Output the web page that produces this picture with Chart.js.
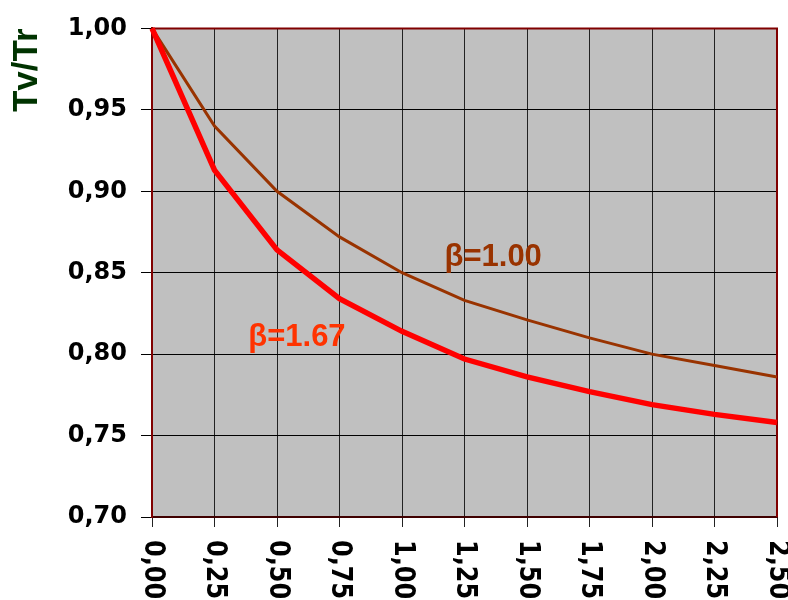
<!DOCTYPE html>
<html lang="en">
<head>
<meta charset="UTF-8">
<title>Tv/Tr</title>
<script src="https://cdn.jsdelivr.net/npm/chart.js@4.4.1/dist/chart.umd.min.js"></script>
<style>
  body { margin: 0; background: #fff; }
</style>
</head>
<body>
<canvas id="chart" width="788" height="600"></canvas>
<script>
// values
const xValues = [0, 0.25, 0.5, 0.75, 1.0, 1.25, 1.5, 1.75, 2.0, 2.25, 2.5];
const beta100 = [1.000, 0.940, 0.900, 0.872, 0.850, 0.833, 0.821, 0.810, 0.800, 0.793, 0.786];
const beta167 = [1.000, 0.913, 0.864, 0.834, 0.814, 0.797, 0.786, 0.777, 0.769, 0.763, 0.758];
const seriesNames = ['β=1.00', 'β=1.67'];
const yTitle = 'Tv/Tr';

// text labels on the plot, placed in data units
const curveLabels = [
    { text: seriesNames[0], x: 1.17, y: 0.854, color: '#993300' },
    { text: seriesNames[1], x: 0.385, y: 0.805, color: '#ff3300' }
];

const fmt = v => v.toFixed(2).replace('.', ',');
const points = ys => xValues.map((x, i) => ({ x: x, y: ys[i] }));

const plotBackground = {
    id: 'plotBackground',
    beforeDraw(chart) {
        const { ctx, chartArea: a } = chart;
        ctx.save();
        ctx.fillStyle = '#c0c0c0';
        ctx.fillRect(a.left, a.top, a.right - a.left, a.bottom - a.top);
        ctx.restore();
    },
    beforeDatasetsDraw(chart) {
        // top and right edge of the frame
        const { ctx, chartArea: a } = chart;
        ctx.save();
        ctx.strokeStyle = '#800000';
        ctx.lineWidth = 2;
        ctx.beginPath();
        ctx.moveTo(a.left, a.top);
        ctx.lineTo(a.right, a.top);
        ctx.lineTo(a.right, a.bottom);
        ctx.stroke();
        ctx.restore();
    }
};

const extraText = {
    id: 'extraText',
    afterDatasetsDraw(chart) {
        const { ctx, scales: { x, y } } = chart;
        ctx.save();
        ctx.font = 'bold 31px "Liberation Sans", Arial, sans-serif';
        ctx.textAlign = 'left';
        ctx.textBaseline = 'alphabetic';
        curveLabels.forEach(l => {
            ctx.fillStyle = l.color;
            ctx.fillText(l.text, x.getPixelForValue(l.x), y.getPixelForValue(l.y));
        });
        ctx.restore();
    },
    afterDraw(chart) {
        // x tick labels, turned clockwise
        const { ctx, scales: { x } } = chart;
        ctx.save();
        ctx.font = 'bold 24px "DejaVu Sans", sans-serif';
        ctx.fillStyle = '#000';
        ctx.textAlign = 'left';
        ctx.textBaseline = 'middle';
        x.ticks.forEach(t => {
            ctx.save();
            ctx.translate(x.getPixelForValue(t.value), 540);
            ctx.rotate(Math.PI / 2);
            ctx.scale(1, 1.2);
            ctx.fillText(fmt(t.value), 0, 0);
            ctx.restore();
        });
        ctx.restore();
    }
};

const ctx = document.getElementById('chart').getContext('2d');
new Chart(ctx, {
    type: 'line',
    data: {
        datasets: [
            {
                label: seriesNames[1],
                data: points(beta167),
                borderColor: '#ff0000',
                borderWidth: 5.5,
                pointRadius: 0,
                tension: 0,
                clip: false
            },
            {
                label: seriesNames[0],
                data: points(beta100),
                borderColor: '#993300',
                borderWidth: 3,
                pointRadius: 0,
                tension: 0,
                clip: false
            }
        ]
    },
    options: {
        responsive: false,
        animation: false,
        layout: { padding: { top: 26, right: 11, left: 0, bottom: 0 } },
        plugins: {
            legend: { display: false },
            tooltip: { enabled: false }
        },
        scales: {
            x: {
                type: 'linear',
                min: 0,
                max: 2.5,
                ticks: { display: false, stepSize: 0.25 },
                grid: { color: '#222', lineWidth: 1, tickLength: 10 },
                border: { color: '#400000', width: 2 },
                afterFit: s => { s.height = 83; }
            },
            y: {
                min: 0.7,
                max: 1.0,
                ticks: {
                    stepSize: 0.05,
                    padding: 14,
                    color: '#000',
                    font: { family: 'DejaVu Sans', weight: 'bold', size: 24 },
                    callback: v => fmt(v)
                },
                grid: { color: '#000', lineWidth: 1, tickLength: 11 },
                border: { color: '#800000', width: 2 },
                title: {
                    display: true,
                    text: yTitle,
                    align: 'end',
                    color: '#003300',
                    font: { family: 'Liberation Sans', weight: 'bold', size: 35 },
                    padding: { top: 6, bottom: 0 }
                },
                afterFit: s => { s.width = 152; }
            }
        }
    },
    plugins: [plotBackground, extraText]
});
</script>
</body>
</html>
